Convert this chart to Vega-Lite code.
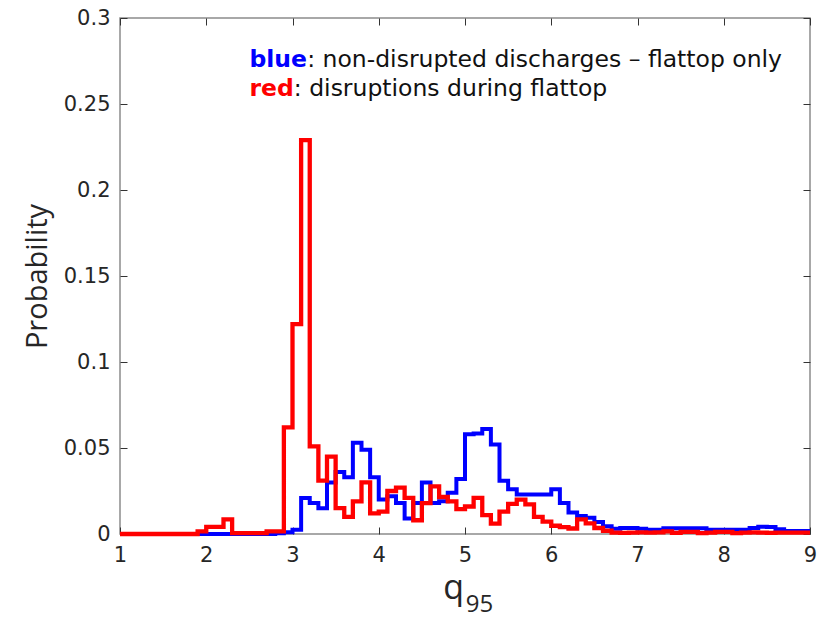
{
  "$schema": "https://vega.github.io/schema/vega-lite/v6.json",
  "width": 690,
  "height": 516,
  "autosize": {"type": "none"},
  "padding": {"left": 120, "top": 18, "right": 7, "bottom": 84},
  "background": "white",
  "config": {
    "view": {"stroke": "#8c8c8c", "strokeWidth": 1.5},
    "axis": {
      "domain": false,
      "grid": false,
      "tickSize": -7,
      "tickColor": "#333333",
      "tickWidth": 1,
      "labelFont": "DejaVu Sans",
      "labelFontSize": 21,
      "labelColor": "#262626",
      "labelPadding": 17,
      "labelFlush": false,
      "titleFont": "Open Sans",
      "titleFontWeight": "normal",
      "titleColor": "#262626"
    }
  },
  "datasets": {
    "blue": [
      {"q": 1.0, "p": 0}, {"q": 1.1, "p": 0}, {"q": 1.2, "p": 0}, {"q": 1.3, "p": 0}, {"q": 1.4, "p": 0},
      {"q": 1.5, "p": 0}, {"q": 1.6, "p": 0}, {"q": 1.7, "p": 0}, {"q": 1.8, "p": 0}, {"q": 1.9, "p": 0},
      {"q": 2.0, "p": 0}, {"q": 2.1, "p": 0}, {"q": 2.2, "p": 0}, {"q": 2.3, "p": 0}, {"q": 2.4, "p": 0},
      {"q": 2.5, "p": 0}, {"q": 2.6, "p": 0}, {"q": 2.7, "p": 0}, {"q": 2.8, "p": 0.0005}, {"q": 2.9, "p": 0.001},
      {"q": 3.0, "p": 0.0025}, {"q": 3.1, "p": 0.021}, {"q": 3.2, "p": 0.018}, {"q": 3.3, "p": 0.015}, {"q": 3.4, "p": 0.030},
      {"q": 3.5, "p": 0.036}, {"q": 3.6, "p": 0.033}, {"q": 3.7, "p": 0.053}, {"q": 3.8, "p": 0.049}, {"q": 3.9, "p": 0.033},
      {"q": 4.0, "p": 0.020}, {"q": 4.1, "p": 0.022}, {"q": 4.2, "p": 0.018}, {"q": 4.3, "p": 0.009}, {"q": 4.4, "p": 0.018},
      {"q": 4.5, "p": 0.030}, {"q": 4.6, "p": 0.018}, {"q": 4.7, "p": 0.019}, {"q": 4.8, "p": 0.024}, {"q": 4.9, "p": 0.032},
      {"q": 5.0, "p": 0.058}, {"q": 5.1, "p": 0.0585}, {"q": 5.2, "p": 0.061}, {"q": 5.3, "p": 0.052}, {"q": 5.4, "p": 0.031},
      {"q": 5.5, "p": 0.026}, {"q": 5.6, "p": 0.023}, {"q": 5.7, "p": 0.023}, {"q": 5.8, "p": 0.023}, {"q": 5.9, "p": 0.023},
      {"q": 6.0, "p": 0.026}, {"q": 6.1, "p": 0.018}, {"q": 6.2, "p": 0.0125}, {"q": 6.3, "p": 0.0105}, {"q": 6.4, "p": 0.0095},
      {"q": 6.5, "p": 0.007}, {"q": 6.6, "p": 0.0045}, {"q": 6.7, "p": 0.003}, {"q": 6.8, "p": 0.0035}, {"q": 6.9, "p": 0.0035},
      {"q": 7.0, "p": 0.003}, {"q": 7.1, "p": 0.0025}, {"q": 7.2, "p": 0.0025}, {"q": 7.3, "p": 0.0033}, {"q": 7.4, "p": 0.0033},
      {"q": 7.5, "p": 0.0033}, {"q": 7.6, "p": 0.0033}, {"q": 7.7, "p": 0.0033}, {"q": 7.8, "p": 0.0025}, {"q": 7.9, "p": 0.0025},
      {"q": 8.0, "p": 0.0025}, {"q": 8.1, "p": 0.0025}, {"q": 8.2, "p": 0.0025}, {"q": 8.3, "p": 0.0035}, {"q": 8.4, "p": 0.0042},
      {"q": 8.5, "p": 0.004}, {"q": 8.6, "p": 0.0028}, {"q": 8.7, "p": 0.0018}, {"q": 8.8, "p": 0.0018}, {"q": 8.9, "p": 0.0018},
      {"q": 9.0, "p": 0.0018}
    ],
    "red": [
      {"q": 1.0, "p": 0}, {"q": 1.1, "p": 0}, {"q": 1.2, "p": 0}, {"q": 1.3, "p": 0}, {"q": 1.4, "p": 0},
      {"q": 1.5, "p": 0}, {"q": 1.6, "p": 0}, {"q": 1.7, "p": 0}, {"q": 1.8, "p": 0}, {"q": 1.9, "p": 0.0015},
      {"q": 2.0, "p": 0.0042}, {"q": 2.1, "p": 0.0042}, {"q": 2.2, "p": 0.0085}, {"q": 2.3, "p": 0.0005}, {"q": 2.4, "p": 0.0005},
      {"q": 2.5, "p": 0.0005}, {"q": 2.6, "p": 0.0005}, {"q": 2.7, "p": 0.0015}, {"q": 2.8, "p": 0.0015}, {"q": 2.9, "p": 0.062},
      {"q": 3.0, "p": 0.122}, {"q": 3.1, "p": 0.229}, {"q": 3.2, "p": 0.051}, {"q": 3.3, "p": 0.031}, {"q": 3.4, "p": 0.045},
      {"q": 3.5, "p": 0.015}, {"q": 3.6, "p": 0.010}, {"q": 3.7, "p": 0.019}, {"q": 3.8, "p": 0.030}, {"q": 3.9, "p": 0.012},
      {"q": 4.0, "p": 0.013}, {"q": 4.1, "p": 0.025}, {"q": 4.2, "p": 0.027}, {"q": 4.3, "p": 0.021}, {"q": 4.4, "p": 0.008},
      {"q": 4.5, "p": 0.018}, {"q": 4.6, "p": 0.0277}, {"q": 4.7, "p": 0.0215}, {"q": 4.8, "p": 0.019}, {"q": 4.9, "p": 0.0145},
      {"q": 5.0, "p": 0.016}, {"q": 5.1, "p": 0.021}, {"q": 5.2, "p": 0.011}, {"q": 5.3, "p": 0.006}, {"q": 5.4, "p": 0.013},
      {"q": 5.5, "p": 0.0175}, {"q": 5.6, "p": 0.020}, {"q": 5.7, "p": 0.0172}, {"q": 5.8, "p": 0.010}, {"q": 5.9, "p": 0.0072},
      {"q": 6.0, "p": 0.0048}, {"q": 6.1, "p": 0.004}, {"q": 6.2, "p": 0.0032}, {"q": 6.3, "p": 0.0085}, {"q": 6.4, "p": 0.0062},
      {"q": 6.5, "p": 0.0035}, {"q": 6.6, "p": 0.0019}, {"q": 6.7, "p": 0.0008}, {"q": 6.8, "p": 0.0006}, {"q": 6.9, "p": 0.0008},
      {"q": 7.0, "p": 0.001}, {"q": 7.1, "p": 0.0008}, {"q": 7.2, "p": 0.001}, {"q": 7.3, "p": 0.0015}, {"q": 7.4, "p": 0.0006},
      {"q": 7.5, "p": 0.0012}, {"q": 7.6, "p": 0.0012}, {"q": 7.7, "p": 0.0005}, {"q": 7.8, "p": 0.0008}, {"q": 7.9, "p": 0.0012},
      {"q": 8.0, "p": 0.0012}, {"q": 8.1, "p": 0.0005}, {"q": 8.2, "p": 0.0008}, {"q": 8.3, "p": 0.001}, {"q": 8.4, "p": 0.0008},
      {"q": 8.5, "p": 0.0006}, {"q": 8.6, "p": 0.0008}, {"q": 8.7, "p": 0.0008}, {"q": 8.8, "p": 0.0008}, {"q": 8.9, "p": 0.0008},
      {"q": 9.0, "p": 0.0008}
    ],
    "one": [{"k": 1}]
  },
  "layer": [
    {
      "data": {"name": "blue"},
      "mark": {"type": "line", "interpolate": "step-after", "color": "#0000FF", "strokeWidth": 4},
      "encoding": {
        "x": {"field": "q", "type": "quantitative", "scale": {"domain": [1, 9], "nice": false},
          "axis": {"orient": "bottom", "values": [1, 2, 3, 4, 5, 6, 7, 8, 9], "title": null}},
        "y": {"field": "p", "type": "quantitative", "scale": {"domain": [0, 0.3], "nice": false},
          "axis": {"orient": "left", "values": [0, 0.05, 0.1, 0.15, 0.2, 0.25, 0.3], "format": "~g", "title": "Probability", "titleFontSize": 29, "titlePadding": 11}}
      }
    },
    {
      "data": {"name": "red"},
      "mark": {"type": "line", "interpolate": "step-after", "color": "#FF0000", "strokeWidth": 4.3},
      "encoding": {
        "x": {"field": "q", "type": "quantitative", "scale": {"domain": [1, 9], "nice": false},
          "axis": {"orient": "top", "values": [1, 2, 3, 4, 5, 6, 7, 8, 9], "labels": false, "title": null}},
        "y": {"field": "p", "type": "quantitative", "scale": {"domain": [0, 0.3], "nice": false},
          "axis": {"orient": "right", "values": [0, 0.05, 0.1, 0.15, 0.2, 0.25, 0.3], "labels": false, "title": null}}
      }
    },
    {
      "data": {"name": "one"},
      "mark": {"type": "text", "text": "blue", "font": "DejaVu Sans", "fontSize": 23.5, "fontWeight": "bold", "color": "#0000FF", "align": "left", "baseline": "alphabetic"},
      "encoding": {"x": {"datum": 2.5, "type": "quantitative", "axis": null}, "y": {"datum": 0.2715, "type": "quantitative", "axis": null}}
    },
    {
      "data": {"name": "one"},
      "mark": {"type": "text", "text": ": non-disrupted discharges – flattop only", "font": "DejaVu Sans", "fontSize": 23.5, "color": "#111111", "align": "left", "baseline": "alphabetic"},
      "encoding": {"x": {"datum": 3.17, "type": "quantitative", "axis": null}, "y": {"datum": 0.2715, "type": "quantitative", "axis": null}}
    },
    {
      "data": {"name": "one"},
      "mark": {"type": "text", "text": "red", "font": "DejaVu Sans", "fontSize": 23.5, "fontWeight": "bold", "color": "#FF0000", "align": "left", "baseline": "alphabetic"},
      "encoding": {"x": {"datum": 2.5, "type": "quantitative", "axis": null}, "y": {"datum": 0.2545, "type": "quantitative", "axis": null}}
    },
    {
      "data": {"name": "one"},
      "mark": {"type": "text", "text": ": disruptions during flattop", "font": "DejaVu Sans", "fontSize": 23.5, "color": "#111111", "align": "left", "baseline": "alphabetic"},
      "encoding": {"x": {"datum": 3.015, "type": "quantitative", "axis": null}, "y": {"datum": 0.2545, "type": "quantitative", "axis": null}}
    },
    {
      "data": {"name": "one"},
      "mark": {"type": "text", "text": "q", "font": "Open Sans", "fontSize": 34, "color": "#262626", "align": "right", "baseline": "alphabetic"},
      "encoding": {"x": {"datum": 4.99, "type": "quantitative", "axis": null}, "y": {"datum": -0.0375, "type": "quantitative", "axis": null}}
    },
    {
      "data": {"name": "one"},
      "mark": {"type": "text", "text": "95", "font": "Open Sans", "fontSize": 24, "color": "#262626", "align": "left", "baseline": "alphabetic"},
      "encoding": {"x": {"datum": 5.01, "type": "quantitative", "axis": null}, "y": {"datum": -0.0455, "type": "quantitative", "axis": null}}
    }
  ],
  "resolve": {"axis": {"x": "independent", "y": "independent"}}
}
